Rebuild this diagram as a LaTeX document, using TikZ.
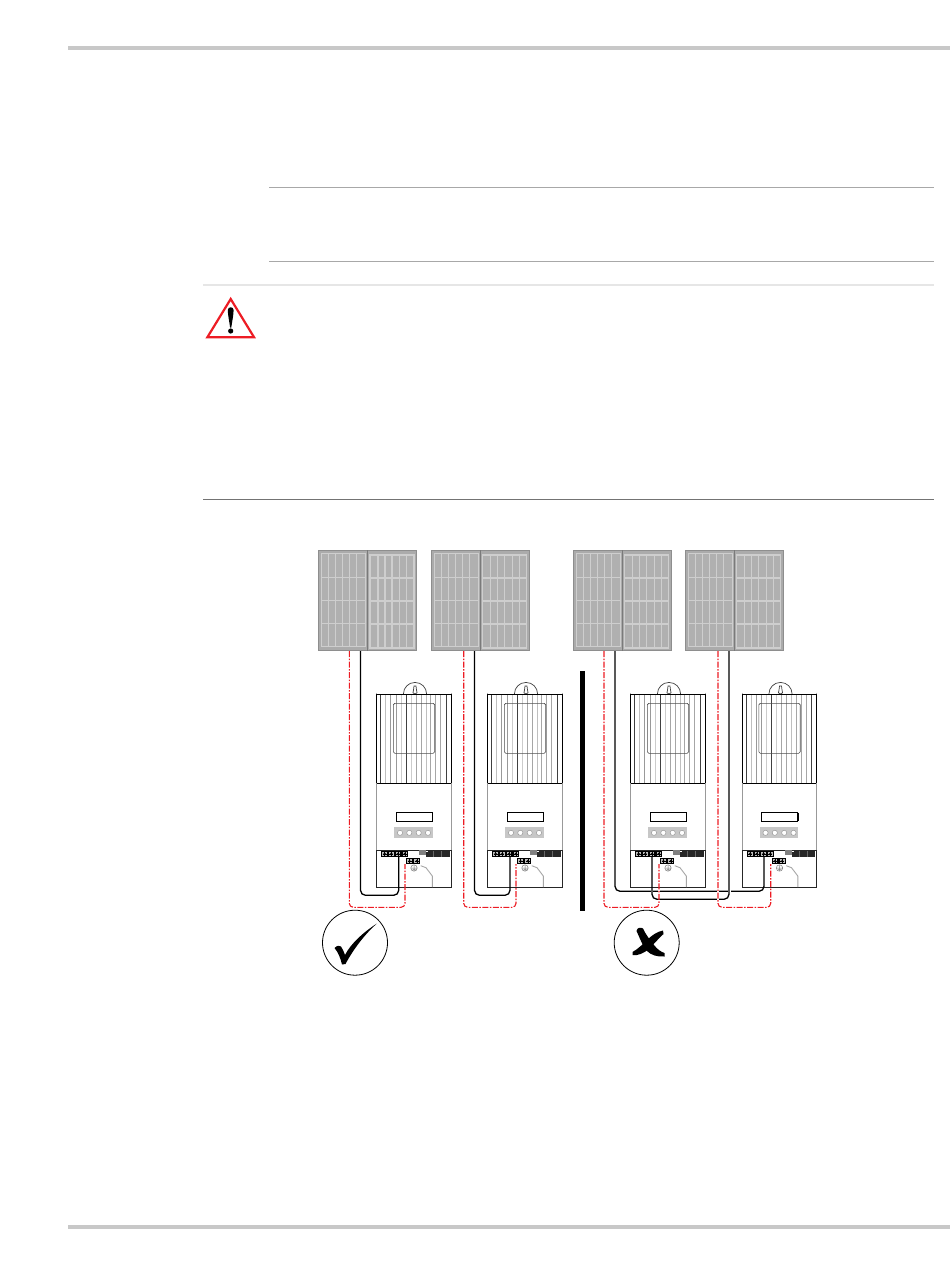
\documentclass[tikz,border=0pt]{standalone}
\usetikzlibrary{calc}
\definecolor{rulegrey}{HTML}{C8C8C8}
\definecolor{thingrey}{HTML}{A8A8A8}
\definecolor{lightrule}{HTML}{E6E6E6}
\definecolor{panelbg}{HTML}{ABABAB}
\definecolor{panelcell}{HTML}{B0B0B0}
\definecolor{panelframe}{HTML}{CECECE}
\definecolor{paneledge}{HTML}{7A7A7A}
\definecolor{redink}{HTML}{ED1C24}
\tikzset{
  wireblack/.style={black,line width=1.3pt,rounded corners=5pt},
  wirehalo/.style={white,line width=3pt},
  wirered/.style={redink,line width=1.1pt,rounded corners=4pt,dash pattern=on 6pt off 1.5pt on 1.5pt off 1.5pt},
  fin/.style={line width=0.8pt},
  cellframe/.style={fill=panelcell,draw=panelframe,line width=1.2pt},
}
\newcommand{\halfpanel}[4]{%
  \begin{scope}[shift={(#1,#2)}]
    \draw[cellframe] (0,0) rectangle (44,93);
    \foreach \vv in {#3}{\draw[panelframe,line width=1.1pt] (\vv,0) -- (\vv,93);}
    \foreach \hh in {#4}{\draw[panelframe,line width=1.1pt] (0,\hh) -- (44,\hh);}
  \end{scope}}
\newcommand{\solarpanel}[2]{%
  \begin{scope}[shift={(#2,0)}]
    \node[inner sep=0pt,minimum width=0pt] (#1) at (367.5,600) {};
    \fill[panelbg] (318,550) rectangle (416.7,650.7);
    \draw[paneledge!60!panelbg,line width=0.6pt] (318,550) rectangle (416.7,650.7);
    \halfpanel{321.3}{553.5}{7,14.5,21.5,28.5,35}{24,47,70}
    \halfpanel{370}{555}{8,15,22,29.5,36.5}{23,46,69}
    \draw[paneledge,line width=1pt] (367.5,550) -- (367.5,650.7);
  \end{scope}}
\newcommand{\termcell}[2]{%
  \fill[black] (#1,#2) rectangle ++(6.9,5.9);
  \fill[black!25] (#1+1,#2+1.1) rectangle ++(4.7,3.7);
  \fill[black] (#1+3.4,#2+2.95) circle (1.3);
  \draw[black,line width=0.5pt] (#1+1.4,#2+2.95) -- ++(4,0) (#1+3.4,#2+1.2) -- ++(0,3.5);}
\newcommand{\controller}[2]{%
  \begin{scope}[shift={(#2,0)}]
    \draw[black!75,line width=0.7pt] (403.4,694) arc[start angle=180,end angle=360,radius=11.6];
    \draw[black!75,line width=0.7pt] (414,686) -- (413.5,690) .. controls (412,692) and (413,694) .. (415,694) .. controls (417,694) and (418,692) .. (416.5,690) -- (416,686) -- cycle;
    \foreach \fx/\fc in {380.7/black!75,385.7/black!25,390.7/black!40,396/black!40,401.3/black!20,406.3/black!75,411.3/black!20,416/black!35,421/black!35,426/black!25,430.7/black!35,435.7/black!35,440.7/black!35,446/black!75}{\draw[fin,\fc] (\fx,694.3) -- (\fx,783.3);}
    \draw[black!70,line width=0.6pt,rounded corners=1.5pt] (393.3,703.3) rectangle (434.7,753.3);
    \draw[black,line width=0.95pt] (376.5,694.3) rectangle (451.3,783.3);
    \draw[black!30,line width=0.8pt] (376.5,692.5) -- (376.5,694) (451.3,692.5) -- (451.3,694);
    \node[inner sep=0pt] (#1) at (414,835) {};
    \draw[black!40,line width=1pt] (376.5,783.3) -- (376.5,850.5) (451.3,783.3) -- (451.3,850.5);
    \draw[black!85,line width=0.9pt] (376.7,850.3) -- (376.7,887.5) -- (451.1,887.5) -- (451.1,850.3) -- cycle;
    \draw[black,line width=0.9pt] (396.3,812.9) rectangle (432.4,821);
    \draw[black,line width=1.2pt] (432.6,812.7) -- (432.6,821.3);
    \fill[black!22] (394.3,827.3) rectangle (432.7,838.3);
    \foreach \kx in {400,409.3,418.7,428}{\draw[fill=white,draw=black!40,line width=0.5pt] (\kx,832.8) circle (2.6);}
    \foreach \tx in {381.3,388,394.7,401.5}{\termcell{\tx}{850.8}}
    \termcell{406.1}{858.2}\termcell{413.4}{858.2}
    \fill[black!50] (419,850) rectangle (426,855.3);
    \fill[black!85] (426,851) rectangle (449.8,856.6);
    \draw[black!60,line width=0.4pt] (433.5,851) -- (433.5,856.6) (441.5,851) -- (441.5,856.6);
    \fill[white] (426,851) rectangle (428,852);
    \draw[black!50,line width=0.5pt] (414,868) circle (3.2) (411.5,868) -- (416.5,868) (414,865.5) -- (414,870.5) (412.5,869.7) -- (415.5,869.7);
    \draw[black!35,line width=0.9pt] (420.7,865.7) -- (426,867.7) -- (432.3,876) -- (432.3,887);
  \end{scope}}
\begin{document}
\begin{tikzpicture}[x=1pt,y=-1pt]
\useasboundingbox (0,0) rectangle (950,1284);
\fill[white] (0,0) rectangle (950,1284);
\coordinate (hdrL) at (68,48); \coordinate (hdrR) at (950,48);
\coordinate (ftrL) at (68,1227); \coordinate (ftrR) at (950,1227);
\draw[rulegrey,line width=3.6pt] (hdrL) -- (hdrR);
\draw[rulegrey,line width=3.6pt] (ftrL) -- (ftrR);
\draw[thingrey,line width=1pt] (269,187.7) -- (934,187.7);
\draw[thingrey,line width=1pt] (269,261) -- (934,261);
\draw[lightrule,line width=1.5pt] (203,285) -- (934,285);
\draw[black!55,line width=1pt] (203,499) -- (934,499);
\draw[redink,line width=2.2pt] (230.7,299) -- (254,337.2) -- (207.4,337.2) -- cycle;
\fill[black] (227.8,310) .. controls (227.8,306.4) and (233.6,306.4) .. (233.6,310) .. controls (233.6,315) and (232,322) .. (231.3,327.5) -- (230.1,327.5) .. controls (229.4,322) and (227.8,315) .. (227.8,310) -- cycle;
\fill[black] (230.7,331) circle (2.6);
\solarpanel{pa}{0}
\solarpanel{pb}{112.8}
\solarpanel{pc}{254.8}
\solarpanel{pd}{366.8}
\controller{ca}{0}
\controller{cb}{111}
\controller{cc}{254}
\controller{cd}{365.5}
\coordinate (divT) at (582,671); \coordinate (divB) at (582,911);
\draw[black,line width=5pt] (divT) -- (divB);
\coordinate (a-neg) at (349.3,651); \coordinate (a-pos) at (360.5,651);
\coordinate (b-neg) at (463.7,651); \coordinate (b-pos) at (474.5,651);
\coordinate (c-neg) at (604,651); \coordinate (c-pos) at (615,651);
\coordinate (d-neg) at (718,651); \coordinate (d-pos) at (729,651);
\coordinate (a-tb) at (398.7,856); \coordinate (a-tr) at (405,864);
\coordinate (b-tb) at (510,856); \coordinate (b-tr) at (516,864);
\coordinate (c-tb) at (652,856); \coordinate (c-tr) at (659,864);
\coordinate (d-tb) at (764,856); \coordinate (d-tr) at (770.7,864);
\draw[wirered] (a-neg) |- (405,907.3) -- (a-tr);
\draw[wireblack] (a-pos) |- (398.7,895.3) -- (a-tb);
\draw[wirered] (b-neg) |- (516,907.3) -- (b-tr);
\draw[wireblack] (b-pos) |- (510,895.3) -- (b-tb);
\draw[wireblack] (c-pos) |- (764,891.3) -- (d-tb);
\draw[wirehalo] (729,886) -- (729,894);
\draw[wirehalo,line width=2.5pt] (652,889) -- (652,894);
\draw[wireblack] (d-pos) |- (652,899.3) -- (c-tb);
\draw[wirehalo,line width=2.8pt] (718,888) -- (718,902) (659,888) -- (659,895);
\draw[wirered] (c-neg) |- (659,907.3) -- (c-tr);
\draw[wirered] (d-neg) |- (770.7,907.3) -- (d-tr);
\node[draw=black,line width=0.8pt,circle,minimum size=65pt,inner sep=0pt] (okmark) at (355,942.7) {};
\node[draw=black,line width=0.8pt,circle,minimum size=65pt,inner sep=0pt] (nomark) at (646.7,942.7) {};
\fill[black] (334.5,948) .. controls (337,945.5) and (339.5,945) .. (341,946.5) .. controls (342.5,948.5) and (344,952) .. (345,955) .. controls (351,943) and (365,931) .. (377,923.5) .. controls (366,933) and (354,948) .. (345.5,964) .. controls (343.5,964.2) and (343,964.5) .. (342,964.5) .. controls (340.5,958) and (338,952) .. (334.5,948) -- cycle;
\fill[black] (636.5,931) .. controls (637,927.5) and (640.5,927) .. (643,928.5) .. controls (645,933) and (649,939) .. (654,945) .. controls (657,949) and (661,952) .. (664.5,953) -- (664.5,956.5) .. controls (657,957) and (651,955) .. (647,951) .. controls (642,945) and (639,936) .. (636.5,931) -- cycle;
\fill[black] (663,930.5) .. controls (657,931.5) and (651,936) .. (647,940) .. controls (643,944) and (638,949) .. (632.5,952) -- (632.5,955) .. controls (638,956) and (644,953) .. (649,949) .. controls (653,945) and (658,939) .. (663.5,934) -- cycle;
\end{tikzpicture}
\end{document}
